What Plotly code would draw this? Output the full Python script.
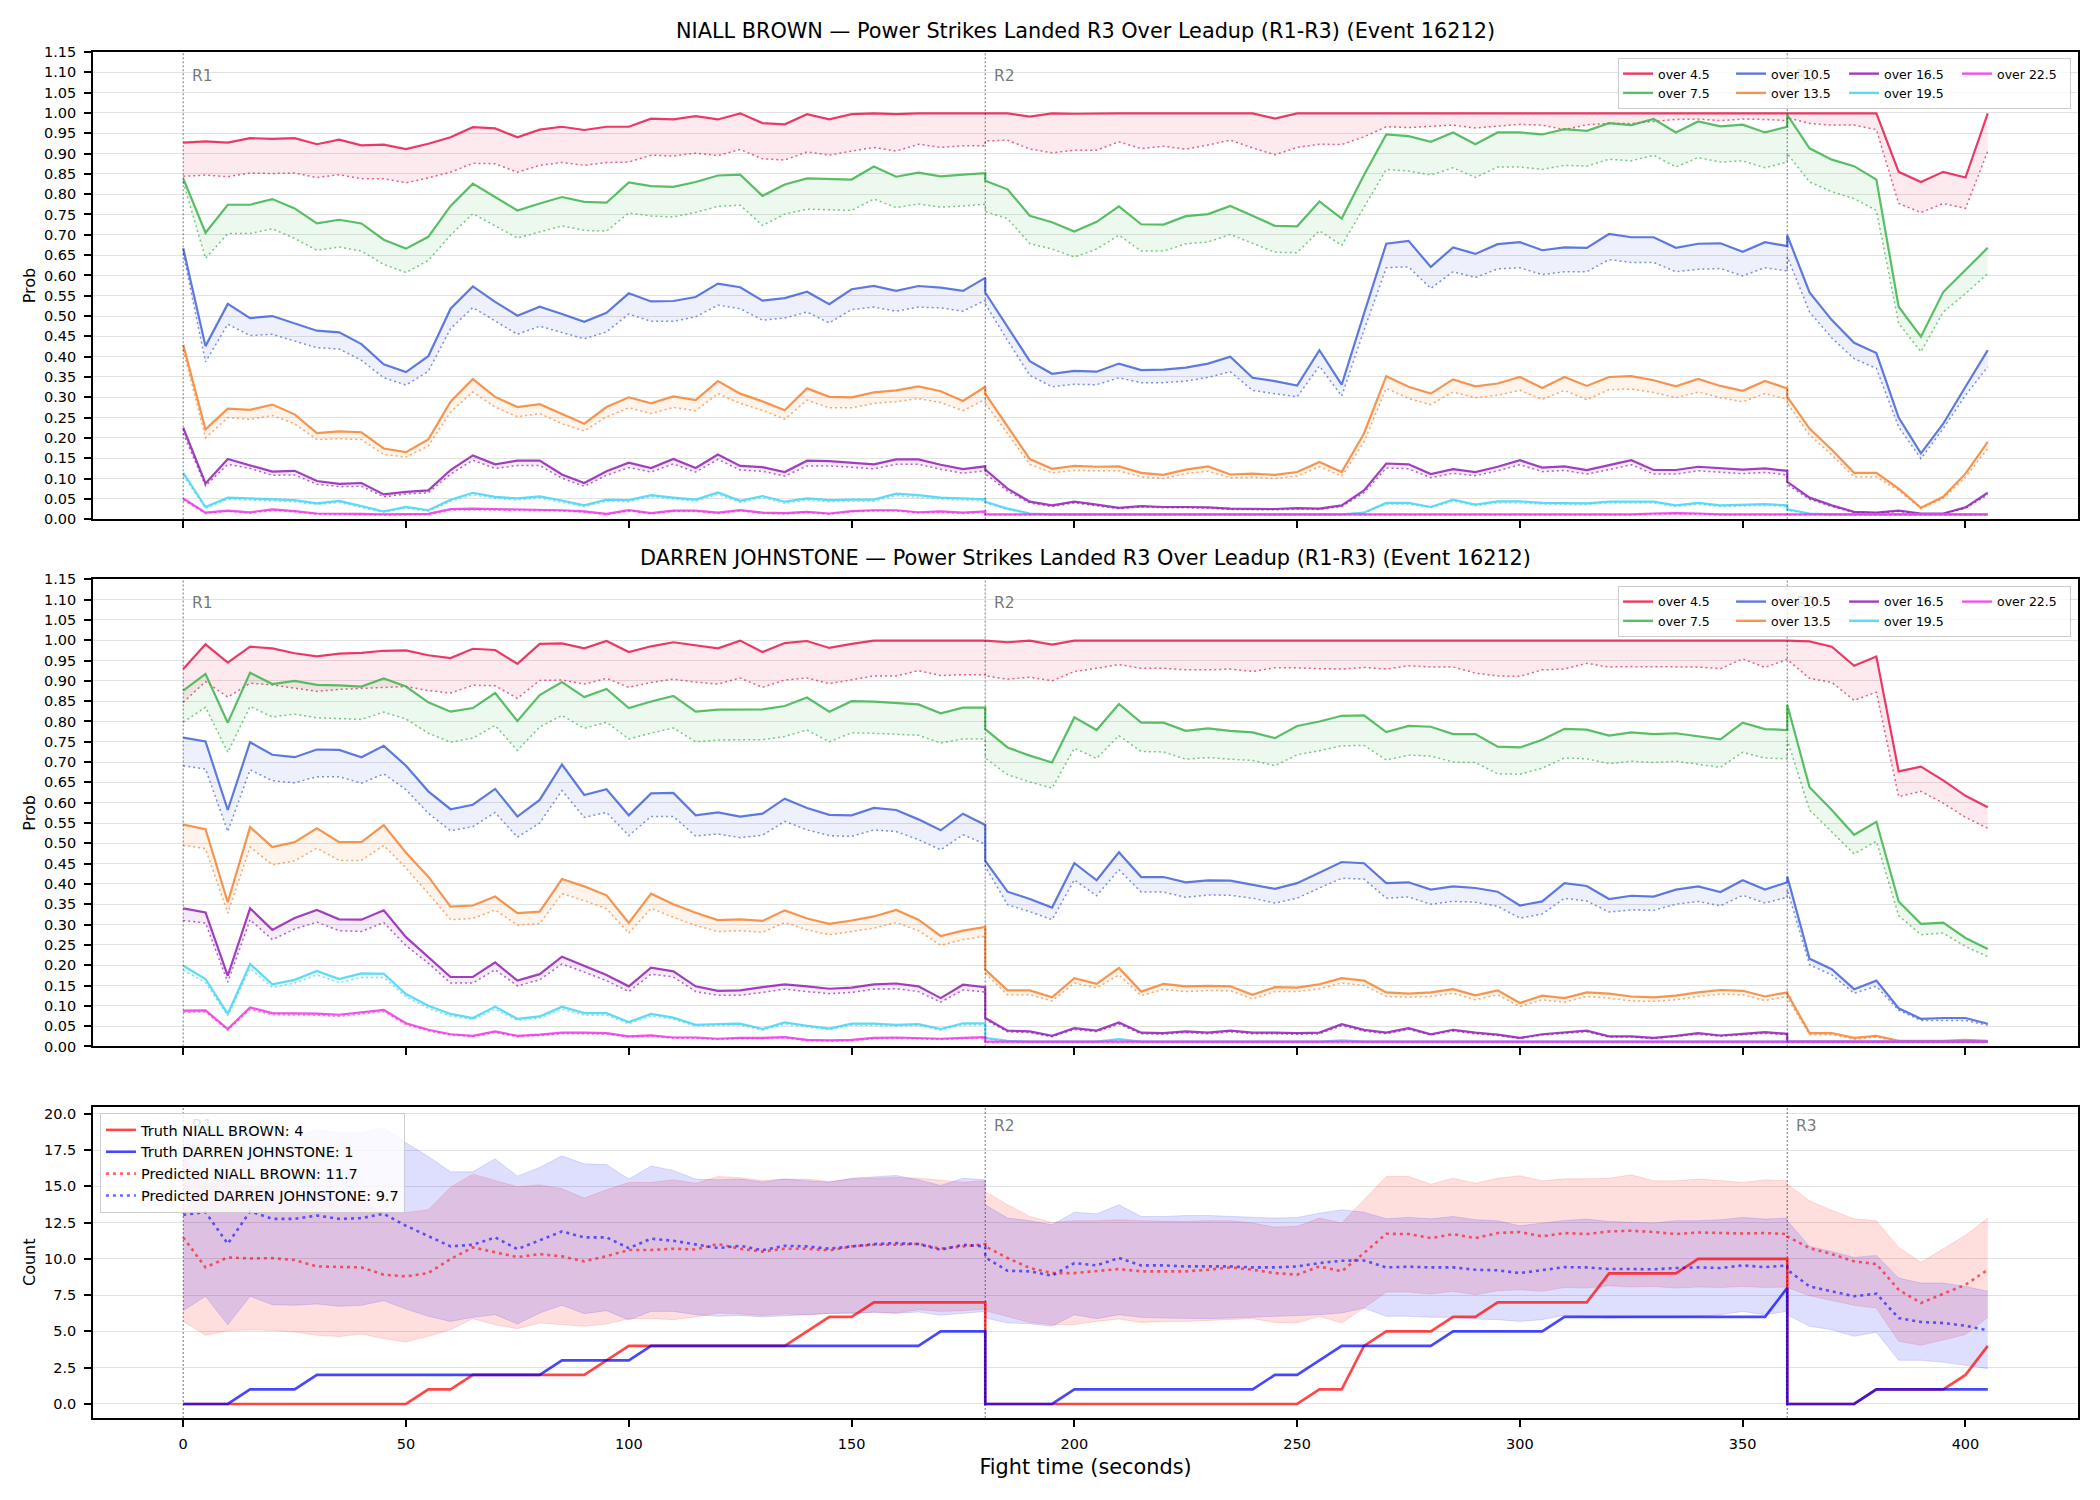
import plotly.graph_objects as go
from plotly.subplots import make_subplots

# ---------------- data ----------------
TIME = list(range(0, 181, 5)) + list(range(180, 361, 5)) + list(range(360, 406, 5))
ROUND_STARTS = [0, 180, 360]
ROUND_LABELS = ["R1", "R2", "R3"]

THRESHOLDS = ["over 4.5", "over 7.5", "over 10.5", "over 13.5", "over 16.5", "over 19.5", "over 22.5"]
COLORS = ["#e6194b", "#3cb44b", "#4363d8", "#f58231", "#911eb4", "#42d4f4", "#f032e6"]
LEGEND_COLUMN = [0, 0, 1, 1, 2, 2, 3]

FIGHTER_A = "NIALL BROWN"
FIGHTER_B = "DARREN JOHNSTONE"
TITLE_TAIL = "Power Strikes Landed R3 Over Leadup (R1-R3) (Event 16212)"
TRUTH_FINAL_A = 4
TRUTH_FINAL_B = 1
PRED_FINAL_A = 11.7
PRED_FINAL_B = 9.7

# NIALL BROWN probabilities (solid = S, dotted = D)
NB_S45 = [0.927,0.930,0.927,0.938,0.936,0.938,0.923,0.934,0.920,0.922,0.911,0.924,0.940,0.965,0.962,0.940,0.959,0.966,0.958,0.966,0.966,0.986,0.984,0.992,0.984,0.999,0.975,0.972,0.997,0.984,0.997,0.999,0.997,0.999,0.999,0.999,0.999,
          0.999,0.999,0.991,0.999,0.998,0.999,0.999,0.999,0.999,0.999,0.999,0.999,0.999,0.986,0.999,0.999,0.999,0.999,0.999,0.999,0.999,0.999,0.999,0.999,0.999,0.999,0.999,0.999,0.999,0.999,0.999,0.999,0.999,0.999,0.999,0.999,0.999,
          0.999,0.999,0.999,0.999,0.999,0.855,0.830,0.855,0.841,0.999]
NB_D45 = [0.844,0.847,0.843,0.852,0.851,0.852,0.841,0.848,0.838,0.838,0.828,0.840,0.854,0.876,0.875,0.854,0.871,0.878,0.871,0.878,0.879,0.896,0.894,0.901,0.895,0.910,0.887,0.884,0.904,0.896,0.906,0.915,0.906,0.923,0.915,0.919,0.919,
          0.931,0.933,0.911,0.902,0.908,0.908,0.929,0.912,0.918,0.911,0.921,0.933,0.914,0.897,0.915,0.923,0.922,0.941,0.966,0.964,0.967,0.970,0.963,0.967,0.972,0.970,0.959,0.971,0.974,0.974,0.979,0.984,0.985,0.981,0.985,0.984,0.981,
          0.988,0.974,0.970,0.970,0.959,0.777,0.755,0.777,0.765,0.906]
NB_S75 = [0.839,0.705,0.774,0.774,0.788,0.765,0.728,0.737,0.728,0.688,0.666,0.695,0.771,0.826,0.793,0.760,0.777,0.793,0.781,0.779,0.829,0.820,0.818,0.830,0.846,0.848,0.796,0.824,0.839,0.838,0.836,0.868,0.843,0.853,0.844,0.848,0.852,
          0.833,0.812,0.747,0.731,0.708,0.732,0.770,0.726,0.725,0.746,0.751,0.771,0.747,0.722,0.721,0.782,0.740,0.847,0.947,0.943,0.929,0.952,0.923,0.952,0.952,0.947,0.960,0.956,0.975,0.970,0.985,0.952,0.979,0.967,0.971,0.952,0.966,
          0.995,0.913,0.885,0.869,0.836,0.523,0.449,0.559,0.613,0.668]
NB_D75 = [0.830,0.642,0.703,0.703,0.715,0.691,0.662,0.670,0.660,0.627,0.607,0.637,0.699,0.752,0.722,0.692,0.707,0.722,0.711,0.709,0.754,0.746,0.744,0.755,0.770,0.773,0.723,0.751,0.763,0.761,0.760,0.788,0.767,0.776,0.768,0.771,0.775,
          0.757,0.740,0.678,0.665,0.645,0.665,0.699,0.660,0.660,0.678,0.682,0.701,0.679,0.657,0.656,0.710,0.674,0.769,0.861,0.857,0.847,0.865,0.841,0.867,0.867,0.861,0.871,0.869,0.886,0.882,0.896,0.867,0.890,0.879,0.882,0.865,0.879,
          0.900,0.830,0.806,0.789,0.760,0.482,0.412,0.510,0.555,0.605]
NB_S105 = [0.667,0.426,0.530,0.495,0.500,0.482,0.464,0.460,0.431,0.381,0.362,0.401,0.518,0.573,0.535,0.501,0.523,0.505,0.486,0.508,0.556,0.536,0.537,0.547,0.580,0.571,0.538,0.544,0.560,0.529,0.566,0.574,0.562,0.574,0.570,0.562,0.594,
           0.558,0.473,0.389,0.358,0.365,0.363,0.383,0.367,0.368,0.373,0.383,0.400,0.348,0.340,0.329,0.416,0.331,0.506,0.678,0.685,0.621,0.669,0.653,0.677,0.682,0.662,0.669,0.668,0.702,0.694,0.694,0.668,0.678,0.679,0.658,0.682,0.672,
           0.699,0.558,0.490,0.434,0.409,0.250,0.162,0.235,0.326,0.416]
NB_D105 = [0.654,0.387,0.480,0.452,0.455,0.439,0.422,0.419,0.391,0.348,0.330,0.364,0.469,0.521,0.487,0.455,0.475,0.459,0.444,0.461,0.505,0.487,0.487,0.498,0.527,0.518,0.490,0.495,0.510,0.483,0.516,0.522,0.512,0.522,0.520,0.512,0.539,
           0.530,0.440,0.354,0.326,0.332,0.331,0.348,0.336,0.336,0.340,0.349,0.363,0.317,0.309,0.301,0.377,0.303,0.465,0.619,0.621,0.568,0.609,0.595,0.616,0.619,0.602,0.609,0.609,0.639,0.632,0.632,0.609,0.615,0.617,0.599,0.619,0.611,
           0.646,0.510,0.446,0.395,0.371,0.227,0.149,0.223,0.305,0.375]
NB_S135 = [0.429,0.221,0.272,0.269,0.282,0.258,0.212,0.216,0.214,0.174,0.165,0.196,0.289,0.345,0.301,0.276,0.283,0.258,0.235,0.276,0.300,0.285,0.302,0.293,0.340,0.309,0.290,0.268,0.322,0.301,0.300,0.312,0.317,0.327,0.315,0.291,0.326,
           0.309,0.227,0.148,0.124,0.131,0.129,0.130,0.114,0.109,0.122,0.130,0.110,0.112,0.109,0.116,0.141,0.116,0.211,0.352,0.326,0.309,0.344,0.327,0.334,0.350,0.323,0.350,0.328,0.350,0.352,0.342,0.327,0.345,0.328,0.316,0.340,0.322,
           0.301,0.223,0.171,0.114,0.114,0.075,0.028,0.055,0.112,0.190]
NB_D135 = [0.416,0.200,0.250,0.246,0.255,0.235,0.196,0.198,0.196,0.159,0.153,0.180,0.264,0.313,0.276,0.252,0.260,0.235,0.217,0.252,0.274,0.260,0.275,0.267,0.309,0.285,0.268,0.246,0.293,0.274,0.274,0.285,0.289,0.297,0.287,0.267,0.295,
           0.285,0.211,0.135,0.114,0.120,0.119,0.119,0.104,0.100,0.112,0.118,0.102,0.103,0.100,0.106,0.129,0.106,0.190,0.322,0.297,0.282,0.313,0.299,0.305,0.317,0.295,0.317,0.294,0.319,0.320,0.312,0.299,0.313,0.299,0.289,0.309,0.295,
           0.285,0.207,0.158,0.104,0.104,0.071,0.026,0.051,0.104,0.174]
NB_S165 = [0.225,0.088,0.148,0.133,0.117,0.119,0.094,0.087,0.089,0.061,0.067,0.071,0.121,0.157,0.135,0.144,0.144,0.110,0.089,0.118,0.139,0.126,0.148,0.126,0.159,0.131,0.128,0.116,0.144,0.143,0.139,0.135,0.147,0.147,0.134,0.123,0.130,
           0.122,0.075,0.043,0.034,0.043,0.036,0.028,0.032,0.030,0.030,0.029,0.026,0.026,0.025,0.027,0.026,0.034,0.071,0.137,0.135,0.111,0.123,0.116,0.129,0.145,0.127,0.130,0.121,0.133,0.145,0.121,0.121,0.129,0.125,0.122,0.125,0.119,
           0.092,0.053,0.034,0.018,0.016,0.021,0.014,0.014,0.029,0.065]
NB_D165 = [0.211,0.082,0.135,0.125,0.108,0.109,0.086,0.080,0.081,0.055,0.062,0.065,0.111,0.145,0.125,0.132,0.132,0.101,0.081,0.108,0.127,0.116,0.136,0.116,0.147,0.121,0.118,0.106,0.131,0.131,0.128,0.124,0.135,0.135,0.123,0.113,0.119,
           0.112,0.069,0.040,0.031,0.040,0.033,0.026,0.030,0.028,0.028,0.027,0.024,0.024,0.023,0.025,0.024,0.031,0.065,0.126,0.124,0.102,0.113,0.107,0.119,0.134,0.117,0.120,0.111,0.122,0.134,0.111,0.111,0.119,0.115,0.112,0.115,0.109,
           0.085,0.049,0.031,0.016,0.015,0.019,0.013,0.013,0.027,0.060]
NB_S195 = [0.114,0.030,0.053,0.051,0.049,0.047,0.039,0.045,0.032,0.019,0.030,0.022,0.048,0.065,0.055,0.051,0.056,0.046,0.034,0.048,0.047,0.059,0.053,0.048,0.066,0.045,0.057,0.043,0.051,0.047,0.048,0.048,0.063,0.059,0.053,0.051,0.049,
           0.043,0.026,0.014,0.012,0.012,0.012,0.012,0.012,0.012,0.012,0.012,0.012,0.012,0.012,0.012,0.012,0.012,0.016,0.040,0.040,0.030,0.048,0.036,0.044,0.044,0.040,0.039,0.039,0.043,0.043,0.043,0.034,0.040,0.034,0.036,0.037,0.034,
           0.024,0.014,0.012,0.012,0.012,0.012,0.012,0.012,0.012,0.012]
NB_D195 = [0.108,0.027,0.049,0.047,0.045,0.043,0.036,0.041,0.029,0.017,0.027,0.020,0.044,0.060,0.051,0.047,0.052,0.042,0.031,0.044,0.043,0.055,0.049,0.044,0.061,0.041,0.053,0.039,0.047,0.043,0.044,0.044,0.058,0.054,0.049,0.047,0.045,
           0.040,0.024,0.013,0.011,0.011,0.011,0.011,0.011,0.011,0.011,0.011,0.011,0.011,0.011,0.011,0.011,0.011,0.015,0.037,0.037,0.028,0.044,0.033,0.040,0.040,0.037,0.036,0.036,0.040,0.040,0.040,0.031,0.037,0.031,0.033,0.034,0.031,
           0.022,0.013,0.011,0.011,0.011,0.011,0.011,0.011,0.011,0.011]
NB_S225 = [0.051,0.016,0.021,0.017,0.024,0.020,0.014,0.014,0.013,0.012,0.012,0.013,0.025,0.026,0.025,0.024,0.022,0.022,0.019,0.013,0.022,0.015,0.021,0.021,0.016,0.022,0.016,0.015,0.018,0.014,0.020,0.022,0.022,0.017,0.019,0.016,0.019,
           0.012,0.012,0.012,0.012,0.012,0.012,0.012,0.012,0.012,0.012,0.012,0.012,0.012,0.012,0.012,0.012,0.012,0.012,0.012,0.012,0.012,0.012,0.012,0.012,0.012,0.012,0.012,0.012,0.012,0.012,0.014,0.015,0.014,0.012,0.012,0.012,0.012,
           0.012,0.012,0.012,0.012,0.012,0.012,0.012,0.012,0.012,0.012]
NB_D225 = [0.047,0.014,0.019,0.015,0.021,0.018,0.012,0.012,0.011,0.010,0.010,0.011,0.022,0.023,0.022,0.021,0.020,0.020,0.017,0.011,0.020,0.013,0.019,0.019,0.014,0.020,0.014,0.013,0.016,0.012,0.018,0.020,0.020,0.015,0.017,0.014,0.017,
           0.010,0.010,0.010,0.010,0.010,0.010,0.010,0.010,0.010,0.010,0.010,0.010,0.010,0.010,0.010,0.010,0.010,0.010,0.010,0.010,0.010,0.010,0.010,0.010,0.010,0.010,0.010,0.010,0.010,0.010,0.012,0.013,0.012,0.010,0.010,0.010,0.010,
           0.010,0.010,0.010,0.010,0.010,0.010,0.010,0.010,0.010,0.010]

# DARREN JOHNSTONE probabilities
DJ_S45 = [0.929,0.990,0.945,0.984,0.980,0.968,0.960,0.967,0.969,0.974,0.975,0.963,0.956,0.979,0.976,0.942,0.991,0.992,0.980,0.998,0.971,0.985,0.995,0.987,0.980,0.999,0.971,0.993,0.998,0.981,0.991,0.999,0.999,0.999,0.999,0.999,0.999,
          0.999,0.995,0.999,0.989,0.999,0.999,0.999,0.999,0.999,0.999,0.999,0.999,0.999,0.999,0.999,0.999,0.999,0.999,0.999,0.999,0.999,0.999,0.999,0.999,0.999,0.999,0.999,0.999,0.999,0.999,0.999,0.999,0.999,0.999,0.999,0.999,0.999,
          0.999,0.997,0.984,0.937,0.960,0.677,0.689,0.655,0.617,0.589]
DJ_D45 = [0.847,0.898,0.860,0.894,0.890,0.882,0.874,0.879,0.881,0.884,0.886,0.876,0.870,0.889,0.888,0.857,0.901,0.902,0.892,0.906,0.884,0.896,0.904,0.897,0.892,0.907,0.884,0.902,0.907,0.893,0.902,0.912,0.912,0.925,0.913,0.915,0.915,
          0.912,0.904,0.909,0.900,0.923,0.931,0.940,0.931,0.931,0.927,0.927,0.929,0.923,0.932,0.932,0.930,0.929,0.933,0.929,0.937,0.934,0.934,0.919,0.912,0.911,0.927,0.929,0.943,0.934,0.935,0.935,0.934,0.934,0.930,0.954,0.933,0.953,
          0.953,0.906,0.896,0.852,0.872,0.615,0.628,0.599,0.564,0.537]
DJ_S75 = [0.876,0.917,0.797,0.920,0.892,0.900,0.890,0.889,0.886,0.906,0.886,0.847,0.824,0.833,0.870,0.801,0.865,0.897,0.860,0.880,0.833,0.849,0.863,0.824,0.829,0.829,0.830,0.838,0.859,0.824,0.850,0.849,0.845,0.842,0.820,0.834,0.834,
          0.781,0.736,0.716,0.699,0.810,0.779,0.843,0.797,0.797,0.777,0.783,0.777,0.773,0.759,0.789,0.800,0.814,0.815,0.774,0.789,0.787,0.769,0.769,0.738,0.736,0.755,0.782,0.780,0.765,0.773,0.769,0.771,0.763,0.756,0.797,0.781,0.779,
          0.841,0.638,0.582,0.521,0.553,0.357,0.302,0.305,0.267,0.240]
DJ_D75 = [0.798,0.835,0.724,0.837,0.811,0.818,0.809,0.807,0.805,0.823,0.806,0.771,0.749,0.759,0.790,0.729,0.786,0.815,0.783,0.798,0.757,0.771,0.784,0.750,0.754,0.755,0.755,0.763,0.779,0.750,0.772,0.771,0.769,0.766,0.747,0.757,0.757,
          0.710,0.669,0.651,0.636,0.734,0.709,0.765,0.726,0.725,0.707,0.711,0.707,0.704,0.691,0.718,0.728,0.740,0.741,0.705,0.717,0.715,0.700,0.699,0.671,0.670,0.685,0.710,0.708,0.696,0.702,0.699,0.702,0.695,0.687,0.724,0.710,0.708,
          0.755,0.582,0.529,0.474,0.505,0.322,0.275,0.279,0.246,0.221]
DJ_S105 = [0.760,0.751,0.582,0.749,0.718,0.712,0.731,0.730,0.712,0.740,0.691,0.628,0.584,0.595,0.634,0.566,0.607,0.694,0.619,0.633,0.569,0.623,0.624,0.569,0.576,0.566,0.573,0.610,0.587,0.570,0.569,0.587,0.582,0.559,0.532,0.573,0.545,
           0.457,0.381,0.363,0.342,0.451,0.409,0.478,0.417,0.417,0.404,0.409,0.408,0.398,0.388,0.402,0.428,0.454,0.451,0.402,0.404,0.386,0.394,0.390,0.381,0.347,0.357,0.402,0.395,0.363,0.371,0.369,0.386,0.394,0.380,0.409,0.386,0.404,
           0.418,0.216,0.190,0.141,0.162,0.094,0.068,0.070,0.070,0.056]
DJ_D105 = [0.691,0.683,0.529,0.681,0.654,0.649,0.664,0.664,0.648,0.671,0.632,0.574,0.531,0.541,0.576,0.515,0.550,0.630,0.564,0.576,0.519,0.566,0.566,0.518,0.523,0.514,0.520,0.554,0.533,0.519,0.517,0.533,0.529,0.509,0.484,0.521,0.498,
           0.443,0.349,0.332,0.312,0.410,0.371,0.435,0.380,0.380,0.367,0.373,0.372,0.365,0.353,0.365,0.390,0.414,0.412,0.365,0.368,0.350,0.357,0.355,0.345,0.316,0.326,0.365,0.358,0.331,0.336,0.335,0.350,0.357,0.346,0.372,0.353,0.367,
           0.386,0.201,0.176,0.131,0.148,0.089,0.064,0.064,0.064,0.052]
DJ_S135 = [0.546,0.535,0.355,0.540,0.491,0.503,0.537,0.503,0.503,0.545,0.477,0.418,0.344,0.347,0.369,0.328,0.332,0.412,0.394,0.372,0.304,0.376,0.350,0.329,0.311,0.313,0.309,0.335,0.315,0.302,0.310,0.320,0.336,0.312,0.272,0.285,0.294,
           0.189,0.138,0.138,0.121,0.168,0.154,0.193,0.135,0.154,0.148,0.149,0.148,0.127,0.146,0.145,0.153,0.168,0.162,0.133,0.130,0.133,0.141,0.126,0.138,0.107,0.125,0.119,0.133,0.130,0.123,0.121,0.125,0.133,0.139,0.137,0.123,0.133,
           0.130,0.033,0.033,0.021,0.026,0.014,0.014,0.014,0.016,0.014]
DJ_D135 = [0.495,0.487,0.328,0.491,0.447,0.457,0.488,0.458,0.458,0.495,0.439,0.377,0.312,0.315,0.336,0.299,0.302,0.376,0.359,0.339,0.279,0.340,0.318,0.298,0.283,0.285,0.281,0.305,0.287,0.275,0.283,0.291,0.305,0.285,0.249,0.263,0.271,
           0.180,0.127,0.127,0.112,0.156,0.144,0.176,0.125,0.141,0.135,0.138,0.137,0.117,0.135,0.135,0.142,0.156,0.150,0.123,0.121,0.123,0.131,0.115,0.127,0.098,0.115,0.109,0.123,0.119,0.112,0.111,0.115,0.123,0.129,0.127,0.113,0.123,
           0.120,0.029,0.029,0.018,0.023,0.012,0.012,0.012,0.014,0.012]
DJ_S165 = [0.340,0.330,0.174,0.340,0.287,0.316,0.336,0.313,0.312,0.335,0.269,0.221,0.171,0.171,0.207,0.162,0.178,0.221,0.199,0.176,0.148,0.194,0.185,0.148,0.137,0.138,0.146,0.153,0.148,0.142,0.145,0.153,0.155,0.148,0.119,0.152,0.146,
           0.070,0.039,0.037,0.026,0.045,0.039,0.059,0.034,0.033,0.037,0.034,0.039,0.034,0.034,0.033,0.034,0.055,0.041,0.034,0.045,0.030,0.041,0.034,0.029,0.021,0.030,0.035,0.039,0.025,0.025,0.021,0.026,0.033,0.027,0.031,0.035,0.031,
           0.012,0.012,0.012,0.012,0.012,0.012,0.012,0.012,0.012,0.012]
DJ_D165 = [0.310,0.304,0.158,0.312,0.263,0.289,0.306,0.285,0.283,0.305,0.248,0.205,0.156,0.156,0.189,0.149,0.164,0.203,0.183,0.162,0.135,0.178,0.171,0.135,0.126,0.126,0.133,0.141,0.135,0.130,0.133,0.141,0.142,0.135,0.109,0.139,0.134,
           0.066,0.036,0.034,0.024,0.042,0.036,0.055,0.031,0.030,0.034,0.031,0.036,0.031,0.031,0.030,0.031,0.051,0.038,0.031,0.042,0.028,0.038,0.031,0.027,0.019,0.028,0.032,0.036,0.023,0.023,0.019,0.024,0.030,0.025,0.029,0.032,0.029,
           0.011,0.011,0.011,0.011,0.011,0.011,0.011,0.011,0.011,0.011]
DJ_S195 = [0.199,0.166,0.080,0.203,0.153,0.164,0.186,0.166,0.180,0.179,0.129,0.100,0.080,0.070,0.098,0.068,0.074,0.098,0.082,0.082,0.060,0.080,0.071,0.053,0.055,0.056,0.043,0.059,0.051,0.044,0.056,0.056,0.053,0.055,0.043,0.057,0.057,
           0.021,0.014,0.012,0.012,0.012,0.012,0.018,0.012,0.012,0.012,0.012,0.012,0.012,0.012,0.012,0.012,0.015,0.012,0.012,0.012,0.012,0.012,0.012,0.012,0.012,0.012,0.012,0.012,0.012,0.012,0.012,0.012,0.012,0.012,0.012,0.012,0.012,
           0.012,0.012,0.012,0.012,0.012,0.012,0.012,0.012,0.012,0.012]
DJ_D195 = [0.188,0.157,0.075,0.192,0.145,0.156,0.176,0.157,0.170,0.170,0.122,0.094,0.075,0.066,0.092,0.064,0.070,0.092,0.077,0.077,0.056,0.075,0.067,0.050,0.052,0.053,0.040,0.055,0.048,0.041,0.052,0.052,0.050,0.052,0.040,0.053,0.053,
           0.019,0.013,0.011,0.011,0.011,0.011,0.016,0.011,0.011,0.011,0.011,0.011,0.011,0.011,0.011,0.011,0.013,0.011,0.011,0.011,0.011,0.011,0.011,0.011,0.011,0.011,0.011,0.011,0.011,0.011,0.011,0.011,0.011,0.011,0.011,0.011,0.011,
           0.011,0.011,0.011,0.011,0.011,0.011,0.011,0.011,0.011,0.011]
DJ_S225 = [0.088,0.089,0.043,0.096,0.082,0.081,0.081,0.078,0.084,0.090,0.057,0.041,0.030,0.026,0.037,0.026,0.029,0.034,0.034,0.033,0.025,0.027,0.022,0.022,0.019,0.021,0.021,0.023,0.016,0.015,0.016,0.021,0.022,0.021,0.019,0.021,0.023,
           0.012,0.012,0.012,0.012,0.012,0.012,0.012,0.012,0.012,0.012,0.012,0.012,0.012,0.012,0.012,0.012,0.012,0.012,0.012,0.012,0.012,0.012,0.012,0.012,0.012,0.012,0.012,0.012,0.012,0.012,0.012,0.012,0.012,0.012,0.012,0.012,0.012,
           0.012,0.012,0.012,0.012,0.012,0.012,0.012,0.012,0.012,0.012]
DJ_D225 = [0.084,0.085,0.040,0.091,0.078,0.077,0.077,0.074,0.080,0.086,0.054,0.038,0.028,0.024,0.034,0.024,0.027,0.031,0.031,0.030,0.023,0.025,0.020,0.020,0.017,0.019,0.019,0.021,0.014,0.013,0.014,0.019,0.020,0.019,0.017,0.019,0.021,
           0.010,0.010,0.010,0.010,0.010,0.010,0.010,0.010,0.010,0.010,0.010,0.010,0.010,0.010,0.010,0.010,0.010,0.010,0.010,0.010,0.010,0.010,0.010,0.010,0.010,0.010,0.010,0.010,0.010,0.010,0.010,0.010,0.010,0.010,0.010,0.010,0.010,
           0.010,0.010,0.010,0.010,0.010,0.010,0.010,0.010,0.010,0.010]

# Counts
TRUTH_NB = [0,0,0,0,0,0,0,0,0,0,0,1,1,2,2,2,2,2,2,3,4,4,4,4,4,4,4,4,5,6,6,7,7,7,7,7,7,
            0,0,0,0,0,0,0,0,0,0,0,0,0,0,0,1,1,4,5,5,5,6,6,7,7,7,7,7,9,9,9,9,10,10,10,10,10,
            0,0,0,0,1,1,1,1,2,4]
TRUTH_DJ = [0,0,0,1,1,1,2,2,2,2,2,2,2,2,2,2,2,3,3,3,3,4,4,4,4,4,4,4,4,4,4,4,4,4,5,5,5,
            0,0,0,0,1,1,1,1,1,1,1,1,1,2,2,3,4,4,4,4,4,5,5,5,5,5,6,6,6,6,6,6,6,6,6,6,8,
            0,0,0,0,1,1,1,1,1,1]
PRED_NB = [11.48,9.41,10.10,10.03,10.05,9.92,9.48,9.44,9.41,8.91,8.79,9.02,9.99,10.79,10.45,10.12,10.33,10.17,9.83,10.19,10.61,10.61,10.70,10.65,11.02,10.70,10.50,10.70,10.70,10.58,10.86,10.97,10.97,11.04,10.70,10.86,11.02,
           10.86,10.06,9.37,9.02,9.02,9.14,9.30,9.14,9.14,9.14,9.25,9.41,9.25,9.02,8.91,9.48,9.14,10.40,11.73,11.71,11.43,11.71,11.43,11.78,11.85,11.55,11.78,11.71,11.89,11.94,11.85,11.71,11.82,11.78,11.75,11.78,11.71,
           11.55,10.74,10.33,9.83,9.64,7.87,6.96,7.60,8.22,9.25]
PRED_DJ = [13.04,13.22,11.04,13.27,12.76,12.76,12.99,12.76,12.81,13.11,12.28,11.55,10.86,10.97,11.48,10.67,11.27,11.89,11.48,11.48,10.74,11.39,11.25,10.97,10.74,10.90,10.60,10.90,10.86,10.70,10.86,11.02,11.09,11.02,10.63,10.97,10.86,
           10.10,9.18,9.14,8.84,9.71,9.55,10.06,9.55,9.55,9.48,9.48,9.48,9.41,9.41,9.48,9.71,9.87,9.89,9.41,9.46,9.41,9.41,9.25,9.21,9.02,9.21,9.43,9.41,9.30,9.30,9.28,9.37,9.41,9.37,9.55,9.43,9.55,
           9.25,8.10,7.76,7.42,7.60,5.92,5.65,5.58,5.39,5.07]
NB_HI = [17.0,15.2,15.5,15.0,14.8,14.6,14.4,14.1,14.0,13.2,13.2,13.38,14.94,15.84,15.38,14.97,15.10,14.83,14.19,14.76,15.27,15.27,15.45,15.22,15.68,15.60,15.40,15.50,15.50,15.33,15.52,15.56,15.61,15.56,15.45,15.29,15.38,
         14.65,13.73,12.92,12.51,12.63,12.63,12.70,12.63,12.58,12.58,12.63,12.63,12.47,12.19,12.24,12.81,12.47,14.07,15.68,15.68,15.15,15.56,15.22,15.56,15.73,15.38,15.52,15.52,15.56,15.79,15.38,15.38,15.50,15.40,15.27,15.45,15.38,
         15.15,14.00,13.34,12.76,12.63,10.79,9.76,10.70,11.62,12.81]
NB_LO = [5.69,4.73,5.05,5.10,5.07,4.96,4.73,4.64,4.82,4.50,4.27,4.66,5.12,5.88,5.46,5.19,5.58,5.46,5.35,5.51,5.88,5.88,5.81,5.99,6.27,6.20,6.10,6.20,6.15,6.24,6.20,6.34,6.27,6.50,6.38,6.43,6.54,
         6.43,6.04,5.62,5.46,5.46,5.69,5.85,5.62,5.69,5.69,5.74,5.81,5.88,5.62,5.58,6.04,5.58,6.61,7.71,7.71,7.58,7.76,7.53,7.81,7.87,7.76,8.03,7.99,8.15,8.06,8.10,7.99,8.06,8.03,8.10,8.03,8.06,
         8.03,7.46,7.14,6.80,6.61,4.32,4.04,4.43,4.78,5.97]
DJ_HI = [19.0,19.1,18.3,19.1,18.5,18.5,18.9,18.7,18.7,19.05,18.0,17.06,16.0,16.0,16.9,15.7,16.3,17.1,16.55,16.5,15.5,16.4,16.1,15.5,15.45,15.5,15.3,15.5,15.38,15.29,15.56,15.68,15.75,15.45,15.06,15.56,15.45,
         13.73,12.81,12.63,12.35,13.22,13.11,13.73,12.92,12.92,12.99,12.99,12.92,12.86,12.81,12.86,13.15,13.38,13.22,12.76,12.86,12.76,12.92,12.70,12.63,12.28,12.47,12.65,12.74,12.58,12.53,12.47,12.63,12.63,12.70,12.86,12.74,12.81,
         12.63,10.86,10.51,10.10,10.24,8.68,8.33,8.33,8.10,7.76]
DJ_LO = [6.43,7.42,5.46,7.42,6.84,6.80,6.89,6.73,6.80,7.12,6.54,6.04,5.69,5.97,6.15,5.51,6.27,6.80,6.22,6.43,5.79,6.38,6.38,6.15,6.04,6.10,6.00,6.10,6.15,6.24,6.27,6.31,6.24,6.34,6.11,6.27,6.38,
         5.92,5.58,5.53,5.35,6.15,5.88,6.15,5.97,5.92,5.88,5.88,5.92,5.97,6.04,6.11,6.15,6.27,6.61,6.04,6.04,5.97,5.97,5.85,5.81,5.69,5.81,6.11,6.04,5.92,5.97,5.99,6.04,6.04,6.15,6.38,6.15,6.38,
         6.15,5.35,5.12,4.66,4.94,3.01,3.01,2.87,2.66,2.43]

NB_SOLID = [NB_S45, NB_S75, NB_S105, NB_S135, NB_S165, NB_S195, NB_S225]
NB_DOTTED = [NB_D45, NB_D75, NB_D105, NB_D135, NB_D165, NB_D195, NB_D225]
DJ_SOLID = [DJ_S45, DJ_S75, DJ_S105, DJ_S135, DJ_S165, DJ_S195, DJ_S225]
DJ_DOTTED = [DJ_D45, DJ_D75, DJ_D105, DJ_D135, DJ_D165, DJ_D195, DJ_D225]

for s in NB_SOLID + NB_DOTTED + DJ_SOLID + DJ_DOTTED + [TRUTH_NB, TRUTH_DJ, PRED_NB, PRED_DJ, NB_HI, NB_LO, DJ_HI, DJ_LO]:
    assert len(s) == len(TIME), len(s)

# ---------------- figure ----------------
FONT = "DejaVu Sans"


def rgba(hex_color, a):
    h = hex_color.lstrip("#")
    r, g, b = int(h[0:2], 16), int(h[2:4], 16), int(h[4:6], 16)
    return f"rgba({r},{g},{b},{a})"


fig = make_subplots(rows=3, cols=1, shared_xaxes=True)

for row, solids, dotteds in [(1, NB_SOLID, NB_DOTTED), (2, DJ_SOLID, DJ_DOTTED)]:
    for k in range(len(THRESHOLDS)):
        c = COLORS[k]
        fig.add_trace(go.Scatter(x=TIME, y=dotteds[k], mode="lines",
                                 line=dict(color=rgba(c, 0.7), width=1.5, dash="2px,3px"),
                                 showlegend=False, hoverinfo="skip"), row=row, col=1)
        fig.add_trace(go.Scatter(x=TIME, y=solids[k], mode="lines",
                                 line=dict(color=rgba(c, 0.85), width=2.2),
                                 fill="tonexty", fillcolor=rgba(c, 0.09),
                                 name=THRESHOLDS[k], showlegend=False), row=row, col=1)
    legend_name = "legend" if row == 1 else "legend2"
    for k in range(len(THRESHOLDS)):
        fig.add_trace(go.Scatter(x=[None], y=[None], mode="lines",
                                 line=dict(color=rgba(COLORS[k], 0.85), width=2.4),
                                 name=THRESHOLDS[k], legend=legend_name,
                                 legendgroup=f"{legend_name}_c{LEGEND_COLUMN[k]}",
                                 showlegend=True), row=row, col=1)

# bottom panel bands
fig.add_trace(go.Scatter(x=TIME, y=NB_LO, mode="lines", line=dict(color="rgba(255,0,0,0.12)", width=1),
                         showlegend=False, hoverinfo="skip"), row=3, col=1)
fig.add_trace(go.Scatter(x=TIME, y=NB_HI, mode="lines", line=dict(color="rgba(255,0,0,0.12)", width=1),
                         fill="tonexty", fillcolor="rgba(255,0,0,0.13)", showlegend=False, hoverinfo="skip"), row=3, col=1)
fig.add_trace(go.Scatter(x=TIME, y=DJ_LO, mode="lines", line=dict(color="rgba(0,0,255,0.12)", width=1),
                         showlegend=False, hoverinfo="skip"), row=3, col=1)
fig.add_trace(go.Scatter(x=TIME, y=DJ_HI, mode="lines", line=dict(color="rgba(0,0,255,0.12)", width=1),
                         fill="tonexty", fillcolor="rgba(0,0,255,0.13)", showlegend=False, hoverinfo="skip"), row=3, col=1)

fig.add_trace(go.Scatter(x=TIME, y=TRUTH_NB, mode="lines", line=dict(color="rgba(255,0,0,0.72)", width=2.6),
                         name=f"Truth {FIGHTER_A}: {TRUTH_FINAL_A}", legend="legend3"), row=3, col=1)
fig.add_trace(go.Scatter(x=TIME, y=TRUTH_DJ, mode="lines", line=dict(color="rgba(0,0,255,0.72)", width=2.6),
                         name=f"Truth {FIGHTER_B}: {TRUTH_FINAL_B}", legend="legend3"), row=3, col=1)
fig.add_trace(go.Scatter(x=TIME, y=PRED_NB, mode="lines", line=dict(color="rgba(255,0,0,0.6)", width=2.6, dash="3px,4px"),
                         name=f"Predicted {FIGHTER_A}: {PRED_FINAL_A}", legend="legend3"), row=3, col=1)
fig.add_trace(go.Scatter(x=TIME, y=PRED_DJ, mode="lines", line=dict(color="rgba(0,0,255,0.6)", width=2.6, dash="3px,4px"),
                         name=f"Predicted {FIGHTER_B}: {PRED_FINAL_B}", legend="legend3"), row=3, col=1)

# ---------------- layout ----------------
axis_common = dict(showline=True, linecolor="black", linewidth=1.6, mirror=True,
                   ticks="outside", ticklen=7, tickwidth=1.6, tickcolor="black",
                   zeroline=False, tickfont=dict(size=14.5, family=FONT, color="black"),
                   ticklabelstandoff=5)

x_ticks = list(range(0, 401, 50))
for i in range(1, 4):
    fig.update_xaxes(range=[-20.25, 425.25], tickvals=x_ticks, showgrid=False,
                     showticklabels=(i == 3), row=i, col=1, **axis_common)

prob_ticks = [round(0.05 * i, 2) for i in range(24)]
for i in (1, 2):
    fig.update_yaxes(range=[0, 1.15], tickvals=prob_ticks, ticktext=[f"{v:.2f}" for v in prob_ticks],
                     showgrid=True, gridcolor="#e2e2e2", gridwidth=1,
                     title=dict(text="Prob", font=dict(size=16, family=FONT), standoff=4),
                     row=i, col=1, **axis_common)
count_ticks = [2.5 * i for i in range(9)]
fig.update_yaxes(range=[-0.97, 20.5], tickvals=count_ticks, ticktext=[f"{v:.1f}" for v in count_ticks],
                 showgrid=True, gridcolor="#e2e2e2", gridwidth=1,
                 title=dict(text="Count", font=dict(size=16, family=FONT), standoff=4),
                 row=3, col=1, **axis_common)
fig.update_xaxes(title=dict(text="Fight time (seconds)", font=dict(size=20.8, family=FONT), standoff=8), row=3, col=1)

fig.update_layout(
    width=2100, height=1500,
    margin=dict(l=93, r=22, t=52, b=82),
    paper_bgcolor="white", plot_bgcolor="white",
    font=dict(family=FONT, size=14.5, color="black"),
    yaxis=dict(domain=[0.658, 1.0]),
    yaxis2=dict(domain=[0.272, 0.614]),
    yaxis3=dict(domain=[0.0, 0.228]),
    legend=dict(orientation="h", traceorder="grouped", x=0.9965, xanchor="right", y=0.9956, yanchor="top",
                bgcolor="rgba(255,255,255,0.8)", bordercolor="#cccccc", borderwidth=1,
                font=dict(size=12.5, family=FONT), entrywidth=68, tracegroupgap=0),
    legend2=dict(orientation="h", traceorder="grouped", x=0.9965, xanchor="right", y=0.6091, yanchor="top",
                 bgcolor="rgba(255,255,255,0.8)", bordercolor="#cccccc", borderwidth=1,
                 font=dict(size=12.5, family=FONT), entrywidth=68, tracegroupgap=0),
    legend3=dict(orientation="v", x=0.0035, xanchor="left", y=0.2233, yanchor="top",
                 bgcolor="rgba(255,255,255,0.8)", bordercolor="#cccccc", borderwidth=1,
                 font=dict(size=14.5, family=FONT)),
)

# round markers (labels that sit under a semi-opaque legend are drawn faded, as in the reference)
UNDER_LEGEND = {(1, "R3"), (2, "R3"), (3, "R1")}
for i in range(1, 4):
    sfx = "" if i == 1 else str(i)
    for b, lab in zip(ROUND_STARTS, ROUND_LABELS):
        fig.add_shape(type="line", x0=b, x1=b, xref=f"x{sfx}", y0=0, y1=1, yref=f"y{sfx} domain",
                      line=dict(color="rgba(0,0,0,0.45)", width=1.2, dash="2px,2px"), layer="above")
        alpha = 0.12 if (i, lab) in UNDER_LEGEND else 0.55
        fig.add_annotation(x=b + 1.6, xref=f"x{sfx}", y=0.972, yref=f"y{sfx} domain", text=lab,
                           showarrow=False, xanchor="left", yanchor="top",
                           font=dict(size=15.5, family=FONT, color=f"rgba(0,0,0,{alpha})"))

# panel titles
fig.add_annotation(x=0.5, xref="paper", y=1.0154, yref="paper", yanchor="middle", showarrow=False,
                   text=f"{FIGHTER_A} \u2014 {TITLE_TAIL}", font=dict(size=20.8, family=FONT, color="black"))
fig.add_annotation(x=0.5, xref="paper", y=0.6296, yref="paper", yanchor="middle", showarrow=False,
                   text=f"{FIGHTER_B} \u2014 {TITLE_TAIL}", font=dict(size=20.8, family=FONT, color="black"))

fig.write_html("out.html")
